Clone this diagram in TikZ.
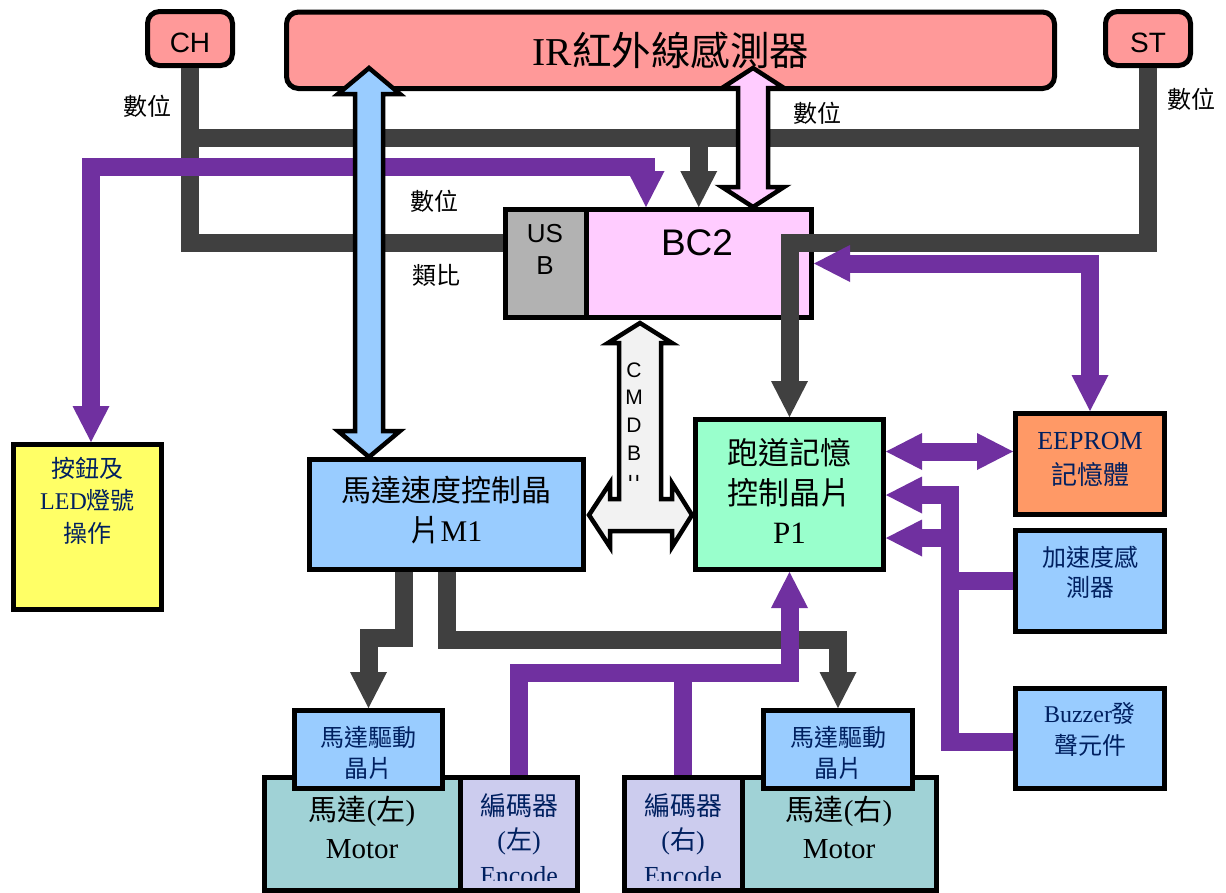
\documentclass[tikz,border=0pt]{standalone}
\usepackage{fontspec}
\setmainfont{Liberation Serif}
\newfontfamily\cjk{Noto Sans CJK TC}
\newfontfamily\arl{Liberation Sans}
\usetikzlibrary{arrows.meta,calc}
\newcommand\fsz[2]{\fontsize{#1}{#2}\selectfont}

\definecolor{salmonF}{HTML}{FF9999}
\definecolor{pinkF}{HTML}{FFCCFF}
\definecolor{usbF}{HTML}{B2B2B2}
\definecolor{busG}{HTML}{404040}
\definecolor{busP}{HTML}{7030A0}
\definecolor{blueF}{HTML}{99CCFF}
\definecolor{yellowF}{HTML}{FFFF66}
\definecolor{mintF}{HTML}{99FFCC}
\definecolor{orangeF}{HTML}{FF9966}
\definecolor{tealF}{HTML}{A0D2D6}
\definecolor{lavF}{HTML}{CCCCEE}
\definecolor{cmdF}{HTML}{F2F2F2}
\definecolor{navy}{HTML}{002060}

\begin{document}
\begin{tikzpicture}[x=1pt, y={(0pt,-1pt)},
  box/.style={rectangle, draw=black, line width=5pt, inner sep=0pt, outer sep=2.5pt},
  rbox/.style={box, rounded corners=12pt},
  bus/.style={line width=18pt, >={Triangle[width=37pt,length=36pt,line width=0pt]}},
  gbus/.style={bus, draw=busG},
  pbus/.style={bus, draw=busP},
  txt/.style={inner sep=0pt, align=center},
  ntxt/.style={txt, text=navy},
  tag/.style={inner sep=0pt, font={\cjk\fsz{24}{28}}},
  blk/.style={draw=black, line width=4.5pt, line join=miter},
  dblock/.style n args={3}{to path={let \p1=(\tikztostart), \p2=(\tikztotarget) in
     (\x1,\y1) -- (\x1+#2,\y1-#3) -- (\x1+#1,\y1-#3) -- (\x1+#1,\y2+#3) -- (\x1+#2,\y2+#3)
     -- (\x1,\y2) -- (\x1-#2,\y2+#3) -- (\x1-#1,\y2+#3) -- (\x1-#1,\y1-#3) -- (\x1-#2,\y1-#3) -- cycle}}
]
\fill[white] (0,0) rectangle (1226,892);
\path[use as bounding box] (0,0) rectangle (1226,892);

% ---------- blocks ----------
\node[rbox, fill=salmonF, minimum width=85pt, minimum height=54pt] (CH) at (190,38.5) {};
\node[rbox, fill=salmonF, minimum width=768pt, minimum height=76.5pt] (IR) at (670.5,50.25) {};
\node[rbox, fill=salmonF, minimum width=85pt, minimum height=54pt] (ST) at (1148,38.5) {};

\node[box, fill=usbF, minimum width=80.5pt, minimum height=108pt] (USB) at (545.75,263.5) {};
\node[box, fill=pinkF, minimum width=225.5pt, minimum height=108pt] (BC2) at (698.75,263.5) {};

\node[box, fill=yellowF, minimum width=148pt, minimum height=165pt] (Btn) at (87.5,527) {};
\node[box, fill=blueF, minimum width=274pt, minimum height=110pt] (M1) at (446.5,514.5) {};
\node[box, fill=mintF, minimum width=188pt, minimum height=150pt] (P1) at (789.5,494.5) {};

\node[box, fill=orangeF, minimum width=149pt, minimum height=101pt] (EE) at (1090,464) {};
\node[box, fill=blueF, minimum width=149pt, minimum height=101pt] (Acc) at (1090,581) {};
\node[box, fill=blueF, minimum width=149pt, minimum height=100pt] (Buz) at (1090,738.5) {};

\node[box, fill=tealF, minimum width=195.5pt, minimum height=112.5pt] (MotL) at (362.25,833.75) {};
\node[box, fill=lavF, minimum width=117.5pt, minimum height=112.5pt] (EncL) at (518.75,833.75) {};
\node[box, fill=lavF, minimum width=117.5pt, minimum height=112.5pt] (EncR) at (683.25,833.75) {};
\node[box, fill=tealF, minimum width=194.5pt, minimum height=112.5pt] (MotR) at (839.25,833.75) {};
\node[box, fill=blueF, minimum width=148pt, minimum height=78pt] (DrvL) at (368.5,749.5) {};
\node[box, fill=blueF, minimum width=149pt, minimum height=78pt] (DrvR) at (838,749.5) {};

% ---------- block texts ----------
\node[txt, font={\arl\fsz{28}{30}}] (CHt) at (190,43) {CH};
\node[txt, font={\arl\fsz{28}{30}}] (STt) at (1148,43) {ST};
\node[txt, font={\fsz{39.5}{40}}] (IRt) at (671,50) {IR{\cjk 紅外線感測器}};
\node[txt, font={\arl\fsz{37}{40}}] (BCt) at (697,243) {BC2};
\node[txt, font={\arl\fsz{26}{32}}] (USBt) at (545,249) {US\\B};

\node[txt, font={\cjk\fsz{30}{40}}] (M1t) at (446.5,510) {馬達速度控制晶\\片{\rmfamily M1}};
\node[txt, font={\cjk\fsz{31}{39.5}}] (P1t) at (789.5,491) {跑道記憶\\控制晶片\\{\rmfamily P1}};
\node[ntxt, font={\cjk\fsz{24}{32.5}}] (Btnt) at (87.5,500.5) {按鈕及\\{\rmfamily LED}燈號\\操作};
\node[ntxt, font={\fsz{26}{35}}] (EEt) at (1090,459) {EEPROM\\{\cjk 記憶體}};
\node[ntxt, font={\cjk\fsz{24}{30}}] (Acct) at (1090,572) {加速度感\\測器};
\node[ntxt, font={\fsz{24}{32}}] (Buzt) at (1090,729) {Buzzer{\cjk 發}\\{\cjk 聲元件}};
\node[ntxt, font={\cjk\fsz{24}{31}}] (DrvLt) at (368.5,752.5) {馬達驅動\\晶片};
\node[ntxt, font={\cjk\fsz{24}{31}}] (DrvRt) at (838,752.5) {馬達驅動\\晶片};
\node[txt, font={\fsz{29}{38}}] (MotLt) at (362,827.5) {{\cjk 馬達}({\cjk 左})\\Motor};
\node[txt, font={\fsz{29}{38}}] (MotRt) at (839,827.5) {{\cjk 馬達}({\cjk 右})\\Motor};
\begin{scope}
  \clip (462,780) rectangle (576,880);
  \node[ntxt, font={\fsz{26}{34.5}}] (EncLt) at (519,839) {{\cjk 編碼器}\\({\cjk 左})\\Encode};
\end{scope}
\begin{scope}
  \clip (626,780) rectangle (740,880);
  \node[ntxt, font={\fsz{26}{34.5}}] (EncRt) at (683,839) {{\cjk 編碼器}\\({\cjk 右})\\Encode};
\end{scope}

% ---------- helper levels for the buses ----------
\coordinate (yTop) at (0,137.5);
\coordinate (yLow) at (0,242.5);
\coordinate (yBtn) at (0,167);
\coordinate (yML) at (0,638);
\coordinate (yMR) at (0,640);
\coordinate (yEnc) at (0,673);
\coordinate (yEP) at (0,451.5);
\coordinate (yA1) at (0,495);
\coordinate (yA2) at (0,538);
\coordinate (yBz) at (0,742);
\coordinate (xV) at (950,0);
\coordinate (bcIn) at ([xshift=-52.75pt]BC2.north);
\coordinate (btnIn) at ([xshift=3.5pt]Btn.north);
\coordinate (m1L) at ([xshift=-42.5pt]M1.south);

% ---------- digital / analog buses ----------
\draw[gbus] (CH.south) -- (CH.south |- yLow) -- (USB.west |- yLow);
\draw[gbus] (CH.south |- yTop) -- (ST.south |- yTop);
\draw[gbus,->] (BC2.north |- yTop) -- (BC2.north);
\draw[gbus,->] (ST.south) -- (ST.south |- yLow) -- (P1.north |- yLow) -- (P1.north);
\draw[gbus,->] (m1L) -- (m1L |- yML) -- (DrvL.north |- yML) -- (DrvL.north);
\draw[gbus,->] (M1.south) -- (M1.south |- yMR) -- (DrvR.north |- yMR) -- (DrvR.north);

% ---------- control lines ----------
\draw[pbus,<->] (btnIn) -- (btnIn |- yBtn) -- (bcIn |- yBtn) -- (bcIn);
\draw[pbus,<->] (BC2.east) -- (EE.north |- BC2.east) -- (EE.north);
\draw[pbus,<->] (P1.east |- yEP) -- (EE.west |- yEP);
\draw[pbus,->] (Buz.west |- yBz) -- (xV |- yBz) -- (xV |- yA1) -- (P1.east |- yA1);
\draw[pbus,->] (xV |- yA2) -- (P1.east |- yA2);
\draw[pbus] (Acc.west) -- (xV |- Acc.west);
\draw[pbus,->] (EncL.north) -- (EncL.north |- yEnc) -- (P1.south |- yEnc) -- (P1.south);
\draw[pbus] (EncR.north) -- (EncR.north |- yEnc);

% ---------- block arrows ----------
\coordinate (bluT) at (369,68);
\coordinate (pnkT) at (753,68);
\draw[blk, fill=blueF, dblock={14pt}{31pt}{26pt}] (bluT) to (bluT |- M1.north);
\draw[blk, fill=pinkF, dblock={15pt}{31pt}{20pt}] (pnkT) to (pnkT |- BC2.north);
\draw[blk, fill=cmdF] (640,323) -- (672,343) -- (661,343) -- (661,499) -- (672,499)
  -- (672,483) -- (692,515) -- (672,547) -- (672,531) -- (610,531) -- (610,547)
  -- (589,515) -- (610,483) -- (610,499) -- (619,499) -- (619,343) -- (608,343) -- cycle;
\node[txt, font={\arl\fsz{21}{27.7}}] (CMDt) at (634,411.5) {C\\M\\D\\B};
\begin{scope}
  \clip (620,470) rectangle (650,480.5);
  \node[txt, font={\arl\fsz{21}{21}}] (CMDu) at (634,481) {u};
\end{scope}

% ---------- signal tags ----------
\node[tag] (tagA) at (147,106) {數位};
\node[tag] (tagB) at (434,201) {數位};
\node[tag] (tagC) at (436,275) {類比};
\node[tag] (tagD) at (817.5,113) {數位};
\node[tag] (tagE) at (1191,99) {數位};
\end{tikzpicture}
\end{document}
